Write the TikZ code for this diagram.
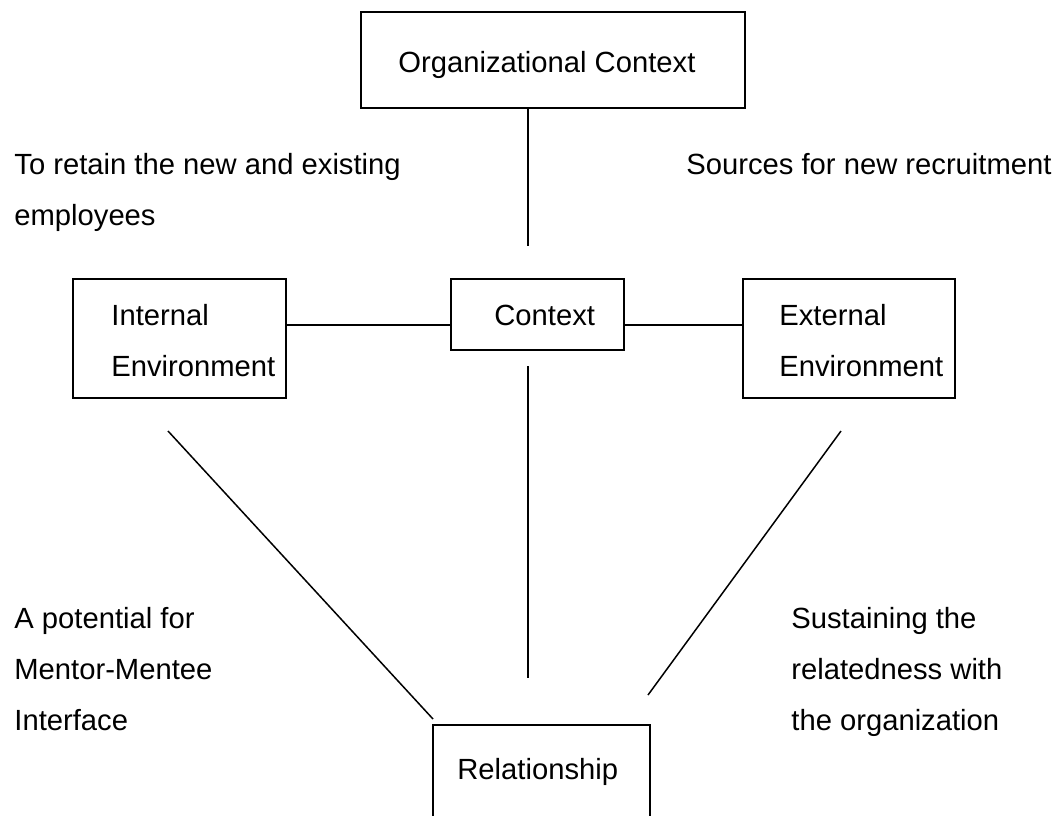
\documentclass[tikz,border=0pt]{standalone}
\usepackage{fontspec}
\setmainfont{Liberation Sans}

\begin{document}
\begin{tikzpicture}[x=0.5pt, y=-0.5pt,
  box/.style={draw, line width=1pt, rectangle, anchor=north west, inner sep=0pt},
  txt/.style={anchor=base west, inner sep=0pt, align=left, font=\fontsize{14.6}{25.5}\selectfont},
  link/.style={line width=0.75pt}]

\useasboundingbox (0,0) rectangle (1060,815);
\clip (0,0) rectangle (1060,815);

% boxes
\node[box, minimum width=192pt, minimum height=48pt] (orgctx) at (360,11) {};
\node[box, minimum width=106.5pt, minimum height=59.5pt] (internal) at (72,278) {};
\node[box, minimum width=86.5pt, minimum height=35.5pt] (context) at (450,278) {};
\node[box, minimum width=106pt, minimum height=59.5pt] (external) at (742,278) {};
\node[box, minimum width=108.5pt, minimum height=65pt] (relation) at (432,724) {};

% texts (base west = baseline of the last line)
\node[txt] (orgtxt) at (398,72) {Organizational Context};
\node[txt] (retain) at (14,225) {To retain the new and existing\\employees};
\node[txt] (sources) at (686,174) {Sources for new recruitment};
\node[txt] (inttxt) at (111,376) {Internal\\Environment};
\node[txt] (ctxtxt) at (494,325) {Context};
\node[txt] (exttxt) at (779,376) {External\\Environment};
\node[txt] (reltxt) at (457,779) {Relationship};
\node[txt] (potential) at (14,730) {A potential for\\Mentor-Mentee\\Interface};
\node[txt] (sustain) at (791,730) {Sustaining the\\relatedness with\\the organization};

% free ends of the connectors
\coordinate (topend) at (528,246);
\coordinate (midline) at (0,325);
\coordinate (stemtop) at (528,366);
\coordinate (stemend) at (528,678);
\coordinate (leftstart) at (168,431);
\coordinate (leftend) at (433,719);
\coordinate (rightstart) at (841,431);
\coordinate (rightend) at (648,695);

\draw[link] (orgctx.south -| topend) -- (topend);
\draw[link] (internal.east |- midline) -- (context.west |- midline);
\draw[link] (context.east |- midline) -- (external.west |- midline);
\draw[link] (stemtop) -- (stemend);
\draw[link] (leftstart) -- (leftend);
\draw[link] (rightstart) -- (rightend);

\end{tikzpicture}
\end{document}
